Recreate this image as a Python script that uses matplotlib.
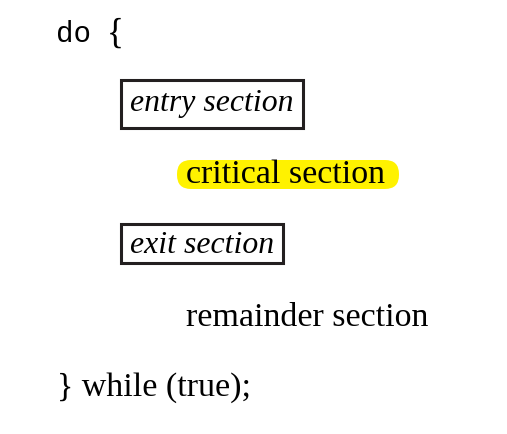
import matplotlib
matplotlib.use('Agg')
from matplotlib import pyplot as plt
from matplotlib.patches import Rectangle, FancyBboxPatch

# the text lines of the figure
head_kw = 'do'
head_brace = '{'
entry_label = 'entry section'
critical_label = 'critical section'
exit_label = 'exit section'
remainder_label = 'remainder section'
tail_label = '} while (true);'

SERIF = ['Liberation Serif', 'DejaVu Serif']
MONO = ['Liberation Mono', 'DejaVu Sans Mono', 'monospace']


def main():
  fig = plt.figure(figsize=(5.07, 4.35), dpi=100)
  ax = fig.add_axes([0, 0, 1, 1])
  ax.set_xlim(0, 507)
  ax.set_ylim(435, 0)
  ax.axis('off')

  fs = 24.5
  fs_it = 22.9

  # do {
  ax.text(56, 42, head_kw, family=MONO, fontsize=21, va='baseline', ha='left')
  ax.text(107, 43, head_brace, family=SERIF, fontsize=fs + 1, va='baseline', ha='left')

  # entry section box
  ax.add_patch(Rectangle((120.5, 81), 182, 48, fill=False, lw=2.2, ec='#231f20'))
  ax.text(130, 111, entry_label, family=SERIF, style='italic', fontsize=fs_it,
          va='baseline', ha='left')

  # highlighted critical section
  ax.add_patch(FancyBboxPatch((177, 161), 222, 29,
                              boxstyle='round,pad=0,rounding_size=14',
                              fc='#fff200', ec='none'))
  ax.text(186, 183, critical_label, family=SERIF, fontsize=fs,
          va='baseline', ha='left')

  # exit section box
  ax.add_patch(Rectangle((120.5, 224.5), 162, 39.5, fill=False, lw=2.2, ec='#231f20'))
  ax.text(130, 253, exit_label, family=SERIF, style='italic', fontsize=fs_it,
          va='baseline', ha='left')

  ax.text(186, 326, remainder_label, family=SERIF, fontsize=fs,
          va='baseline', ha='left')
  ax.text(57, 396, tail_label, family=SERIF, fontsize=fs,
          va='baseline', ha='left')

  fig.savefig('out.png', dpi=100)


if __name__ == '__main__':
  main()
